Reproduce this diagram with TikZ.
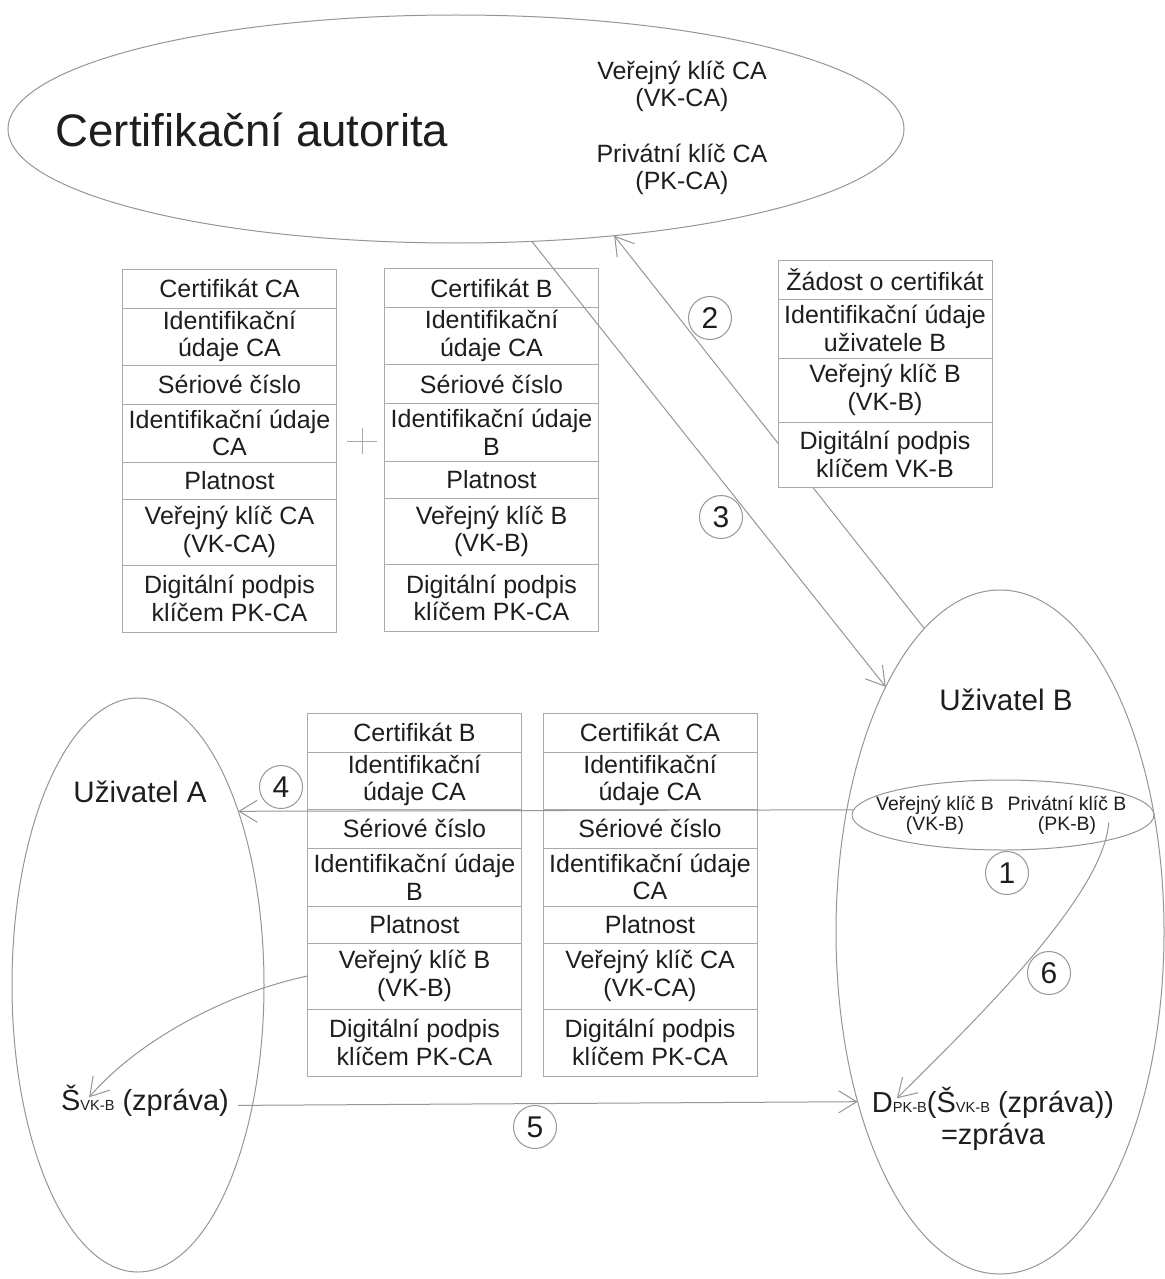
\documentclass[tikz,border=0pt]{standalone}
\usepackage{fontspec}
\setmainfont{Liberation Sans}
\usetikzlibrary{arrows.meta,positioning,shapes.geometric}

\definecolor{linegray}{RGB}{150,150,150}
\definecolor{boxgray}{RGB}{170,170,170}
\definecolor{textdark}{RGB}{30,30,30}

\newcommand{\tabfont}{\fontsize{12.5}{13.8}\selectfont}
\newcommand{\titlefont}{\fontsize{22.8}{26}\selectfont}
\newcommand{\cafont}{\fontsize{12.5}{13.5}\selectfont}
\newcommand{\userfont}{\fontsize{14.8}{17}\selectfont}
\newcommand{\keyfont}{\fontsize{9.7}{10}\selectfont}
\newcommand{\msgfont}{\fontsize{14.5}{16}\selectfont}
\newcommand{\subfont}{\fontsize{7.3}{8}\selectfont}
\newcommand{\numfont}{\fontsize{15}{16}\selectfont}

% certificate = stack of 7 rows, #1 name, #2 centre of first row, #3 owner
\newcommand{\certstack}[3]{%
  \node[row,minimum height=19.5pt] (#1-1) at #2 {Certifikát #3};
  \node[row,minimum height=28.5pt] (#1-2) [below=0pt of #1-1] {Identifikační\\údaje CA};
  \node[row,minimum height=19.5pt] (#1-3) [below=0pt of #1-2] {Sériové číslo};
  \node[row,minimum height=29pt]   (#1-4) [below=0pt of #1-3] {Identifikační údaje\\#3};
  \node[row,minimum height=18.5pt] (#1-5) [below=0pt of #1-4] {Platnost};
  \node[row,minimum height=33pt]   (#1-6) [below=0pt of #1-5] {Veřejný klíč #3\\(VK-#3)};
  \node[row,minimum height=33.5pt] (#1-7) [below=0pt of #1-6] {Digitální podpis\\klíčem PK-CA};
}

\begin{document}
\begin{tikzpicture}[
                        x=0.5pt,
                        y=-0.5pt,
                        >={Straight Barb[length=9pt,width=11pt]},
                        every node/.style={text=textdark},
                        wire/.style={draw=linegray,line width=0.5pt}
                    ]
                    \tikzstyle{row}=[rectangle,draw=boxgray,fill=white,line width=0.5pt,
                                     minimum width=107pt,inner sep=0pt,outer sep=0pt,
                                     align=center,font=\tabfont]
                    \tikzstyle{oval}=[ellipse,draw=linegray,line width=0.5pt,inner sep=0pt,outer sep=0pt]
                    \tikzstyle{num}=[circle,draw=linegray,fill=white,line width=0.5pt,
                                     minimum size=21.5pt,inner sep=0pt,font=\numfont]

                    \path[use as bounding box,fill=white] (0,0) rectangle (1165,1279);

                    % parties
                    \node[oval,minimum width=448pt,minimum height=114pt] (ca)   at (456,129)  {};
                    \node[oval,minimum width=126pt,minimum height=287pt] (uA)   at (138,985)  {};
                    \node[oval,minimum width=164pt,minimum height=342pt] (uB)   at (1000,932) {};
                    \node[oval,minimum width=151pt,minimum height=35pt]  (keys) at (1003,815) {};

                    % request goes under the request box
                    \draw[wire,->] (uB.104.9) -- (ca.-34.1);

                    % certificates
                    \certstack{certCA}{(229.5,288.5)}{CA}
                    \certstack{certB}{(491.5,288)}{B}
                    \certstack{sentB}{(414.5,732.5)}{B}
                    \certstack{sentCA}{(650,732.5)}{CA}

                    \node[row,minimum height=19.5pt] (req-1) at (885,279.5) {Žádost o certifikát};
                    \node[row,minimum height=29.5pt] (req-2) [below=0pt of req-1] {Identifikační údaje\\uživatele B};
                    \node[row,minimum height=32pt]   (req-3) [below=0pt of req-2] {Veřejný klíč B\\(VK-B)};
                    \node[row,minimum height=32.5pt] (req-4) [below=0pt of req-3] {Digitální podpis\\klíčem VK-B};

                    \draw[draw=boxgray,line width=0.5pt] (347,441) -- (377,441) (362,428) -- (362,454);

                    % texts
                    \node[font=\titlefont] (caname) at (252,130) {Certifikační autorita};
                    \node[font=\cafont,align=center] (vkCA) at (682,86)  {Veřejný klíč CA\\(VK-CA)};
                    \node[font=\cafont,align=center] (pkCA) at (682,169) {Privátní klíč CA\\(PK-CA)};
                    \node[font=\userfont] (nameA) at (140,792) {Uživatel A};
                    \node[font=\userfont] (nameB) at (1006,700) {Uživatel B};
                    \node[font=\keyfont,align=center,inner sep=0pt] (vkB)   at (935,815)  {Veřejný klíč B\\(VK-B)};
                    \node[font=\keyfont,align=center,inner sep=0pt] (privB) at (1067,815) {Privátní klíč B\\(PK-B)};
                    \node[font=\msgfont,inner sep=0pt,outer xsep=4.5pt,outer ysep=0pt] (msgA) at (145,1101)
                        {Š{\subfont VK-B} (zpráva)};
                    \node[font=\msgfont,align=center,inner sep=0pt,outer sep=0pt] (decr) at (993,1119)
                        {D{\subfont PK-B}(Š{\subfont VK-B} (zpráva))\\=zpráva};

                    % transfers
                    \draw[wire,->] (ca.-56.1) -- (uB.115.7);
                    \draw[wire,->] (keys.178) -- (uA.60.3);
                    \draw[wire,->] (msgA.mid east) -- (uB.230.6);
                    \draw[wire,->] (sentB-6.west) .. controls +(-80,17) and +(50,-58) .. ([shift={(37,12)}]msgA.north west);
                    \draw[wire,->] ([shift={(-18,-12)}]privB.south east) .. controls +(-5,75) and +(70,-70) .. ([shift={(25,11)}]decr.north west);

                    % steps
                    \node[num] (n1) at (1007,873) {1};
                    \node[num] (n2) at (710,318)  {2};
                    \node[num] (n3) at (721,517)  {3};
                    \node[num] (n4) at (281,787)  {4};
                    \node[num] (n5) at (535,1127) {5};
                    \node[num] (n6) at (1049,973) {6};

\end{tikzpicture}
\end{document}
